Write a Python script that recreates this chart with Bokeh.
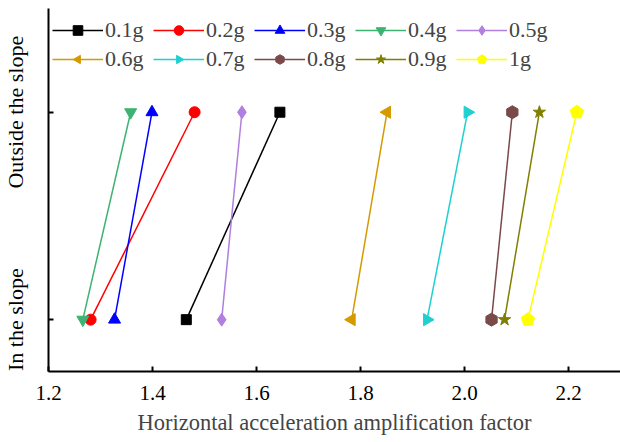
import math
from bokeh.plotting import figure
from bokeh.models import Range1d, FixedTicker, Legend, LegendItem
from bokeh.embed import file_html
from bokeh.resources import INLINE

series = ["0.1g", "0.2g", "0.3g", "0.4g", "0.5g", "0.6g", "0.7g", "0.8g", "0.9g", "1g"]
in_slope = [1.465, 1.281, 1.327, 1.266, 1.533, 1.783, 1.928, 2.052, 2.077, 2.122]
outside_slope = [1.645, 1.481, 1.399, 1.358, 1.572, 1.851, 2.006, 2.092, 2.144, 2.216]
positions = [1, 2]
position_labels = {1: "In the slope", 2: "Outside the slope"}
x_ticks = [1.2, 1.4, 1.6, 1.8, 2.0, 2.2]

colors = ["#000000", "#FF0000", "#0000FF", "#3CB371", "#B07FE0",
          "#D49A00", "#1FD0D0", "#7A4A4A", "#808000", "#FFFF00"]
# (kind, marker / n, angle, size)
markers = [("scatter", "square", 0, 10),
           ("scatter", "circle", 0, 11),
           ("scatter", "triangle", 0, 12),
           ("scatter", "inverted_triangle", 0, 12),
           ("scatter", "diamond", 0, 13),
           ("ngon", 3, math.pi / 2, 7),
           ("ngon", 3, -math.pi / 2, 7),
           ("ngon", 6, 0, 6.5),
           ("scatter", "star", 0, 13),
           ("ngon", 5, 0, 7)]

FONT = "Liberation Serif"

p = figure(width=620, height=442, output_backend="svg", toolbar_location=None,
           x_range=Range1d(1.2, 2.3), y_range=Range1d(0.75, 2.5),
           min_border_left=48, min_border_right=0, min_border_top=8, min_border_bottom=71)
p.outline_line_color = None
p.grid.visible = False
p.background_fill_color = "white"
p.border_fill_color = "white"

items = []
for i, name in enumerate(series):
    xs = [in_slope[i], outside_slope[i]]
    ys = positions
    r_line = p.line(xs, ys, line_color=colors[i], line_width=1.5)
    kind, m, ang, sz = markers[i]
    if kind == "ngon":
        r_m = p.ngon(x=xs, y=ys, radius=sz, radius_units="screen", n=m,
                     angle=ang, fill_color=colors[i], line_color=colors[i])
    else:
        r_m = p.scatter(xs, ys, marker=m, size=sz, angle=ang,
                        fill_color=colors[i], line_color=colors[i])
    items.append(LegendItem(label=name, renderers=[r_line, r_m]))

legend = Legend(items=items, orientation="horizontal", ncols=5,
                location=(4, 299), padding=0, margin=0, spacing=3,
                glyph_width=51, glyph_height=24, label_height=24, label_width=45,
                label_standoff=2,
                label_text_font=FONT, label_text_font_size="22px",
                border_line_color=None, background_fill_alpha=0)
p.add_layout(legend, "center")

for ax in (p.xaxis[0], p.yaxis[0]):
    ax.axis_line_width = 2
    ax.major_tick_line_width = 2
    ax.major_tick_in = 5
    ax.major_tick_out = 0
    ax.minor_tick_line_color = None
    ax.major_label_text_font = FONT
    ax.major_label_text_color = "black"
    ax.axis_line_color = "black"
    ax.major_tick_line_color = "black"

p.xaxis.ticker = FixedTicker(ticks=x_ticks)
p.xaxis.major_label_overrides = {1.2: "1.2", 1.4: "1.4", 1.6: "1.6", 1.8: "1.8", 2.0: "2.0", 2.2: "2.2"}
p.xaxis.major_label_text_font_size = "21px"
p.xaxis.major_label_standoff = 14
p.xaxis.axis_label = "Horizontal acceleration amplification factor"
p.xaxis.axis_label_text_font = FONT
p.xaxis.axis_label_text_font_size = "22.5px"
p.xaxis.axis_label_text_font_style = "normal"
p.xaxis.axis_label_standoff = 7

p.yaxis.ticker = FixedTicker(ticks=positions)
p.yaxis.major_label_overrides = position_labels
p.yaxis.major_label_orientation = "vertical"
p.yaxis.major_label_text_font_size = "22px"
p.yaxis.major_label_standoff = 20

open("out.html", "w").write(file_html(p, INLINE))
